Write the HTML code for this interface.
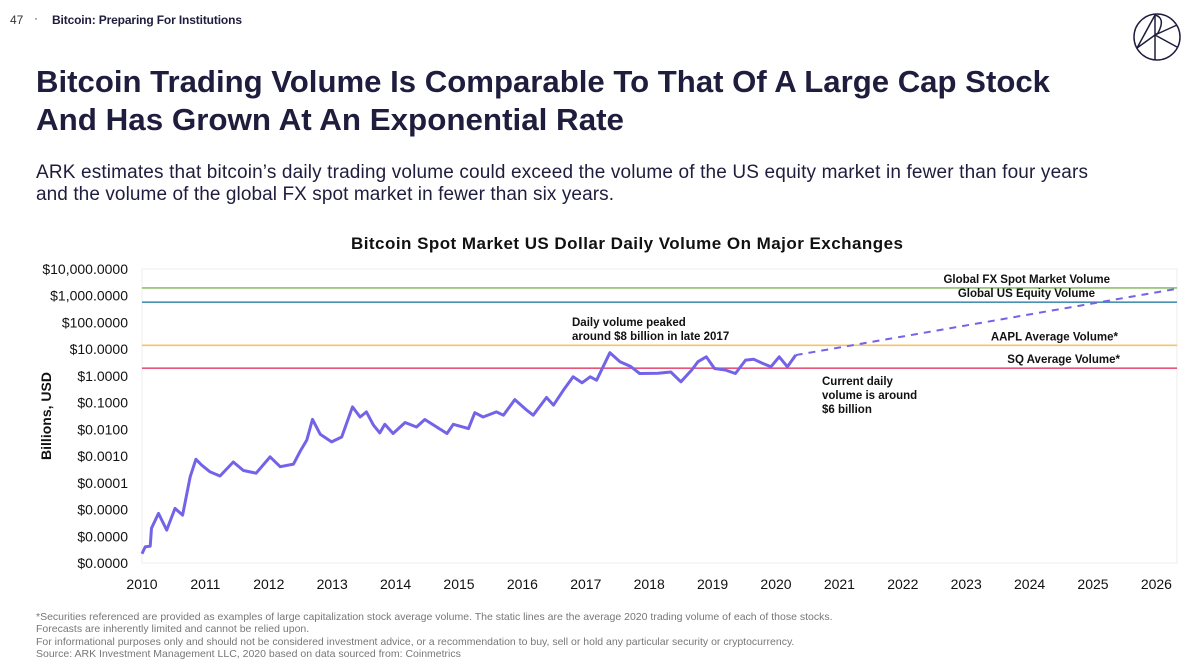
<!DOCTYPE html>
<html><head><meta charset="utf-8"><style>
body{margin:0;background:#fff;}
svg{display:block;font-family:"Liberation Sans",sans-serif;}
</style></head><body>
<svg id="s" width="1200" height="670" viewBox="0 0 1200 670">
<text x="10" y="24" font-size="12" fill="#333">47</text>
<text x="34" y="22" font-size="12" fill="#333">·</text>
<text x="52" y="24" font-size="12" font-weight="bold" fill="#1f1d3d" textLength="190">Bitcoin: Preparing For Institutions</text>
<g stroke="#1f1d3d" stroke-width="1.5" fill="none">
<circle cx="1157" cy="37" r="23"/>
<line x1="1137" y1="48" x2="1155" y2="15"/><line x1="1155" y1="15" x2="1155" y2="60"/>
<path d="M1155 15 Q1166 18 1158 33 L1155 35"/><line x1="1155" y1="35" x2="1177" y2="25"/><line x1="1155" y1="35" x2="1177" y2="47"/><line x1="1137" y1="48" x2="1155" y2="35"/>
</g>
<text x="36" y="92" font-size="31" font-weight="bold" fill="#1f1d3d" textLength="1014" lengthAdjust="spacingAndGlyphs">Bitcoin Trading Volume Is Comparable To That Of A Large Cap Stock</text>
<text x="36" y="130" font-size="31" font-weight="bold" fill="#1f1d3d" textLength="588" lengthAdjust="spacingAndGlyphs">And Has Grown At An Exponential Rate</text>
<text x="36" y="178" font-size="19" fill="#1f1d3d" textLength="1052">ARK estimates that bitcoin’s daily trading volume could exceed the volume of the US equity market in fewer than four years</text>
<text x="36" y="200" font-size="19" fill="#1f1d3d" textLength="578">and the volume of the global FX spot market in fewer than six years.</text>
<text x="627" y="249" font-size="17" font-weight="bold" fill="#111" text-anchor="middle" textLength="552">Bitcoin Spot Market US Dollar Daily Volume On Major Exchanges</text>
<rect x="142" y="269" width="1035" height="294" fill="none" stroke="#eee"/>
<text transform="translate(51,416) rotate(-90)" font-size="14" font-weight="bold" fill="#111" text-anchor="middle">Billions, USD</text>
<g id="chart"></g>
<g font-size="10.5" fill="#777">
<text x="36" y="620">*Securities referenced are provided as examples of large capitalization stock average volume. The static lines are the average 2020 trading volume of each of those stocks.</text>
<text x="36" y="632">Forecasts are inherently limited and cannot be relied upon.</text>
<text x="36" y="645">For informational purposes only and should not be considered investment advice, or a recommendation to buy, sell or hold any particular security or cryptocurrency.</text>
<text x="36" y="657">Source: ARK Investment Management LLC, 2020 based on data sourced from: Coinmetrics</text>
</g>
</svg>
<script>
const years=[2010.00,2010.05,2010.13,2010.15,2010.26,2010.39,2010.52,2010.64,2010.76,2010.85,2010.94,2011.07,2011.23,2011.44,2011.60,2011.80,2012.02,2012.18,2012.39,2012.49,2012.60,2012.69,2012.81,2012.99,2013.15,2013.32,2013.44,2013.54,2013.65,2013.75,2013.83,2013.96,2014.15,2014.33,2014.46,2014.81,2014.91,2015.15,2015.25,2015.38,2015.59,2015.70,2015.88,2016.07,2016.17,2016.38,2016.49,2016.65,2016.80,2016.94,2017.07,2017.17,2017.38,2017.54,2017.70,2017.85,2018.14,2018.34,2018.50,2018.67,2018.77,2018.90,2019.03,2019.20,2019.36,2019.52,2019.65,2019.79,2019.92,2020.05,2020.18,2020.31];
const volumes=[2.2e-7,4e-7,4.3e-7,2e-6,7.2e-6,1.7e-6,1.1e-5,6.2e-6,1.7e-4,7.6e-4,4.6e-4,2.6e-4,1.8e-4,6e-4,2.9e-4,2.3e-4,9.3e-4,4e-4,5e-4,1.45e-3,4e-3,0.0236,6.6e-3,3.4e-3,5.2e-3,0.069,0.029,0.045,0.0145,7.4e-3,0.0155,7e-3,0.018,0.0123,0.0234,7e-3,0.0155,0.0107,0.042,0.029,0.045,0.034,0.13,0.052,0.034,0.155,0.081,0.30,0.93,0.55,0.93,0.69,7.4,3.4,2.3,1.23,1.26,1.4,0.6,1.66,3.4,5.2,1.9,1.66,1.23,3.9,4.2,2.95,2.2,5.2,2.2,6.0];
const forecastYears=[2020.31,2026.3];
const forecastVolumes=[6.0,1780];
const refNames=["Global FX Spot Market Volume","Global US Equity Volume","AAPL Average Volume*","SQ Average Volume*"];
const refValues=[1950,575,14,1.95];
const refColors=["#8dc26f","#4a90b0","#f7c36a","#e8557a"];
const yTickLabels=["$10,000.0000","$1,000.0000","$100.0000","$10.0000","$1.0000","$0.1000","$0.0100","$0.0010","$0.0001","$0.0000","$0.0000","$0.0000"];
const yTickValues=[1e4,1e3,1e2,10,1,0.1,0.01,0.001,1e-4,1e-5,1e-6,1e-7];
const xTickYears=[2010,2011,2012,2013,2014,2015,2016,2017,2018,2019,2020,2021,2022,2023,2024,2025,2026];
const NS="http://www.w3.org/2000/svg";
const X0=142,X1=1177,Y0=269,Y1=563;
const xs=y=>X0+(y-2010)*63.4;
const ys=v=>Y0+(4-Math.log10(v))*(Y1-Y0)/11;
const g=document.getElementById('chart');
function mk(t,a,txt){const e=document.createElementNS(NS,t);for(const k in a)e.setAttribute(k,a[k]);if(txt!==undefined)e.textContent=txt;g.appendChild(e);return e;}
yTickValues.forEach((v,i)=>{const e=mk('text',{x:128,y:ys(v)+5,'font-size':14,fill:'#111','text-anchor':'end'},yTickLabels[i]);

});
xTickYears.forEach(y=>{const e=mk('text',{x:xs(y),y:589,'font-size':14,fill:'#111','text-anchor':'middle'},String(y));

});
const labPos=[[1110,284],[1095,300],[1118,342],[1120,364]];
refValues.forEach((v,i)=>{const l=mk('line',{x1:X0,x2:X1,y1:ys(v),y2:ys(v),stroke:refColors[i],'stroke-width':1.6});


const t=mk('text',{x:labPos[i][0],y:ys(v)-5,'font-size':11.5,'font-weight':'bold',fill:'#111','text-anchor':'end'},refNames[i]);

});
const p=mk('path',{d:years.map((y,i)=>(i?'L':'M')+xs(y).toFixed(1)+' '+ys(volumes[i]).toFixed(1)).join(' '),fill:'none',stroke:'#7363e8','stroke-width':3,'stroke-linejoin':'round'});


const f=mk('line',{x1:xs(forecastYears[0]),y1:ys(forecastVolumes[0]),x2:xs(forecastYears[1]),y2:ys(forecastVolumes[1]),stroke:'#7363e8','stroke-width':2,'stroke-dasharray':'7,6'});


const ann=[[572,326,'Daily volume peaked'],[572,340,'around $8 billion in late 2017'],[822,385,'Current daily'],[822,399,'volume is around'],[822,413,'$6 billion']];
ann.forEach(a=>{const t=mk('text',{x:a[0],y:a[1],'font-size':11.5,'font-weight':'bold',fill:'#111'},a[2]);

});
</script>
</body></html>
